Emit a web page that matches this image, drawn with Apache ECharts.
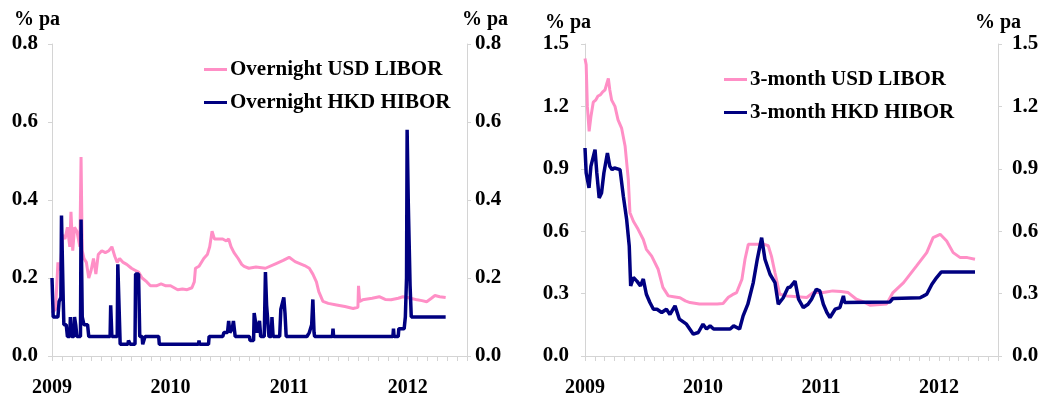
<!DOCTYPE html>
<html>
<head>
<meta charset="utf-8">
<script src="https://cdn.jsdelivr.net/npm/echarts@6/dist/echarts.min.js"></script>
<style>
  html, body { margin: 0; padding: 0; background: #fff; }
  #chart { width: 1047px; height: 403px; }
</style>
</head>
<body>
<div id="chart"></div>
<script>
// Interbank rates, Jan 2009 – Apr 2012 (% per annum); x = fractional year
const yearTicks = [2009, 2010, 2011, 2012];
const unitLabel = '% pa';

const onUsdLibor = [
  [2009.00,0.11],[2009.03,0.12],[2009.05,0.24],[2009.07,0.22],[2009.09,0.31],[2009.11,0.30],
  [2009.13,0.33],[2009.15,0.28],[2009.16,0.37],[2009.175,0.27],[2009.19,0.33],[2009.21,0.32],
  [2009.235,0.28],[2009.245,0.51],[2009.255,0.27],[2009.27,0.25],[2009.29,0.24],[2009.31,0.20],
  [2009.33,0.22],[2009.35,0.25],[2009.37,0.21],[2009.39,0.26],[2009.42,0.27],[2009.45,0.265],
  [2009.48,0.27],[2009.505,0.28],[2009.53,0.255],[2009.55,0.24],[2009.57,0.25],[2009.60,0.24],
  [2009.63,0.235],[2009.67,0.225],[2009.70,0.22],[2009.73,0.215],[2009.76,0.20],[2009.80,0.19],
  [2009.83,0.18],[2009.88,0.18],[2009.92,0.185],[2009.96,0.18],[2010.00,0.18],[2010.03,0.175],
  [2010.06,0.17],[2010.10,0.172],[2010.14,0.17],[2010.18,0.175],[2010.20,0.19],[2010.21,0.225],
  [2010.24,0.23],[2010.28,0.25],[2010.31,0.26],[2010.33,0.28],[2010.35,0.32],[2010.37,0.30],
  [2010.40,0.30],[2010.44,0.30],[2010.47,0.295],[2010.49,0.30],[2010.51,0.28],[2010.535,0.265],
  [2010.57,0.25],[2010.60,0.235],[2010.62,0.23],[2010.66,0.225],[2010.72,0.228],[2010.80,0.225],
  [2010.89,0.237],[2010.95,0.245],[2011.00,0.253],[2011.05,0.242],[2011.09,0.237],[2011.13,0.232],
  [2011.17,0.225],[2011.20,0.21],[2011.23,0.19],[2011.25,0.165],[2011.285,0.14],[2011.33,0.135],
  [2011.40,0.131],[2011.47,0.127],[2011.54,0.122],[2011.58,0.125],[2011.585,0.18],[2011.595,0.14],
  [2011.62,0.144],[2011.70,0.148],[2011.76,0.152],[2011.81,0.145],[2011.86,0.144],[2011.92,0.148],
  [2011.96,0.152],[2012.00,0.15],[2012.04,0.147],[2012.08,0.144],[2012.12,0.142],[2012.16,0.139],
  [2012.20,0.148],[2012.23,0.155],[2012.27,0.152],[2012.32,0.15]
];

const onHkdHibor = [
  [2009.00,0.20],[2009.005,0.20],[2009.01,0.10],[2009.05,0.10],[2009.06,0.14],[2009.075,0.15],
  [2009.08,0.36],[2009.09,0.36],[2009.095,0.14],[2009.10,0.08],[2009.12,0.08],[2009.13,0.05],
  [2009.15,0.05],[2009.155,0.10],[2009.165,0.05],[2009.185,0.05],[2009.19,0.10],[2009.20,0.08],
  [2009.21,0.05],[2009.24,0.05],[2009.245,0.35],[2009.25,0.35],[2009.255,0.10],[2009.27,0.08],
  [2009.30,0.08],[2009.31,0.05],[2009.49,0.05],[2009.495,0.13],[2009.50,0.13],[2009.505,0.05],
  [2009.55,0.05],[2009.555,0.235],[2009.565,0.235],[2009.575,0.03],[2009.64,0.03],[2009.645,0.04],
  [2009.66,0.03],[2009.70,0.03],[2009.705,0.21],[2009.73,0.21],[2009.74,0.05],[2009.76,0.05],
  [2009.765,0.03],[2009.78,0.03],[2009.785,0.05],[2009.90,0.05],[2009.905,0.03],[2010.235,0.03],
  [2010.24,0.04],[2010.245,0.03],[2010.32,0.03],[2010.325,0.05],[2010.44,0.05],[2010.45,0.06],
  [2010.48,0.06],[2010.49,0.09],[2010.50,0.06],[2010.52,0.07],[2010.53,0.09],[2010.545,0.05],
  [2010.665,0.05],[2010.67,0.04],[2010.70,0.04],[2010.705,0.11],[2010.715,0.09],[2010.725,0.09],
  [2010.73,0.06],[2010.75,0.09],[2010.76,0.05],[2010.79,0.05],[2010.80,0.215],[2010.81,0.13],
  [2010.82,0.13],[2010.83,0.05],[2010.85,0.05],[2010.855,0.10],[2010.865,0.05],[2010.92,0.05],
  [2010.93,0.12],[2010.955,0.15],[2010.965,0.11],[2010.975,0.05],[2011.15,0.05],[2011.17,0.06],
  [2011.19,0.08],[2011.20,0.145],[2011.21,0.06],[2011.215,0.05],[2011.365,0.05],[2011.37,0.07],
  [2011.375,0.05],[2011.875,0.05],[2011.88,0.07],[2011.885,0.05],[2011.92,0.05],[2011.925,0.07],
  [2011.97,0.07],[2011.98,0.10],[2011.99,0.20],[2011.995,0.58],[2012.00,0.58],[2012.005,0.39],
  [2012.01,0.39],[2012.015,0.25],[2012.02,0.18],[2012.025,0.18],[2012.03,0.10],[2012.32,0.10]
];

const m3UsdLibor = [
  [2009.00,1.43],[2009.01,1.40],[2009.02,1.20],[2009.035,1.08],[2009.05,1.15],[2009.07,1.22],
  [2009.09,1.23],[2009.11,1.25],[2009.13,1.255],[2009.15,1.27],[2009.17,1.28],[2009.185,1.31],
  [2009.198,1.335],[2009.21,1.28],[2009.226,1.23],[2009.254,1.20],[2009.28,1.135],[2009.31,1.096],
  [2009.34,1.008],[2009.367,0.848],[2009.381,0.689],[2009.41,0.648],[2009.45,0.609],[2009.494,0.56],
  [2009.52,0.513],[2009.565,0.48],[2009.62,0.417],[2009.66,0.33],[2009.706,0.289],[2009.75,0.285],
  [2009.805,0.28],[2009.85,0.265],[2009.89,0.257],[2009.97,0.25],[2010.05,0.25],[2010.12,0.25],
  [2010.17,0.252],[2010.215,0.282],[2010.25,0.295],[2010.285,0.305],[2010.33,0.369],[2010.356,0.465],
  [2010.384,0.537],[2010.45,0.537],[2010.52,0.537],[2010.553,0.53],[2010.58,0.48],[2010.61,0.40],
  [2010.65,0.297],[2010.71,0.289],[2010.80,0.285],[2010.88,0.281],[2010.935,0.305],[2011.02,0.305],
  [2011.10,0.313],[2011.17,0.31],[2011.23,0.305],[2011.30,0.273],[2011.36,0.26],[2011.415,0.244],
  [2011.50,0.248],[2011.556,0.25],[2011.61,0.305],[2011.70,0.353],[2011.81,0.433],[2011.896,0.497],
  [2011.95,0.569],[2012.01,0.585],[2012.065,0.553],[2012.12,0.497],[2012.18,0.473],[2012.24,0.473],
  [2012.305,0.465]
];

const m3HkdHibor = [
  [2009.00,1.0],[2009.01,0.88],[2009.034,0.808],[2009.05,0.912],[2009.085,0.992],[2009.10,0.88],
  [2009.12,0.76],[2009.14,0.784],[2009.16,0.88],[2009.19,0.976],[2009.21,0.912],[2009.23,0.896],
  [2009.25,0.904],[2009.297,0.896],[2009.325,0.768],[2009.353,0.656],[2009.375,0.528],[2009.387,0.337],
  [2009.41,0.377],[2009.44,0.36],[2009.47,0.337],[2009.494,0.37],[2009.52,0.297],[2009.55,0.257],
  [2009.58,0.225],[2009.61,0.225],[2009.65,0.209],[2009.69,0.225],[2009.72,0.2],[2009.763,0.241],
  [2009.80,0.177],[2009.86,0.153],[2009.918,0.105],[2009.96,0.113],[2010.00,0.153],[2010.03,0.13],
  [2010.06,0.145],[2010.09,0.13],[2010.23,0.13],[2010.26,0.145],[2010.31,0.13],[2010.34,0.193],
  [2010.38,0.249],[2010.426,0.353],[2010.46,0.465],[2010.497,0.569],[2010.525,0.465],[2010.568,0.393],
  [2010.61,0.353],[2010.638,0.249],[2010.68,0.28],[2010.72,0.329],[2010.737,0.33],[2010.78,0.36],
  [2010.81,0.273],[2010.85,0.233],[2010.89,0.249],[2010.92,0.273],[2010.96,0.321],[2010.99,0.313],
  [2011.02,0.249],[2011.05,0.209],[2011.076,0.185],[2011.12,0.225],[2011.16,0.233],[2011.19,0.289],
  [2011.20,0.257],[2011.585,0.26],[2011.61,0.277],[2011.84,0.28],[2011.87,0.289],[2011.896,0.297],
  [2011.94,0.345],[2011.98,0.377],[2012.02,0.404],[2012.305,0.404]
];

const PINK = '#ff8fc6';
const NAVY = '#000080';
const AXIS_GREY = '#d4d4d4';
const FONT = '"Liberation Serif", "Times New Roman", serif';

const chart = echarts.init(document.getElementById('chart'), null, { renderer: 'canvas' });

function xAxisFor(gridIndex) {
  return {
    type: 'value', gridIndex,
    min: 2009, max: 2012.5, interval: 1 / 12,
    axisLine: { show: true, lineStyle: { color: AXIS_GREY, width: 1 } },
    axisTick: { show: true, inside: false, length: 5, lineStyle: { color: AXIS_GREY } },
    splitLine: { show: false },
    axisLabel: {
      margin: 22, color: '#000', fontFamily: FONT, fontWeight: 'bold', fontSize: 20,
      formatter: v => {
        const y = Math.round(v);
        return (Math.abs(v - y) < 1e-6 && yearTicks.includes(y)) ? String(y) : '';
      }
    }
  };
}

function yAxisFor(gridIndex, position, max, interval, digits, margin) {
  return {
    type: 'value', gridIndex, position,
    min: 0, max, interval,
    axisLine: { show: true, lineStyle: { color: AXIS_GREY, width: 1 } },
    axisTick: { show: true, inside: false, length: 4, lineStyle: { color: AXIS_GREY } },
    splitLine: { show: false },
    axisLabel: {
      margin, color: '#000', fontFamily: FONT, fontWeight: 'bold', fontSize: 21,
      formatter: v => v.toFixed(digits)
    }
  };
}

function lineSeries(name, data, color, width, xi, yi) {
  return {
    name, type: 'line', data, xAxisIndex: xi, yAxisIndex: yi,
    showSymbol: false, symbol: 'none', smooth: false,
    lineStyle: { color, width }, itemStyle: { color },
    z: color === NAVY ? 3 : 2
  };
}

const legendBase = {
  orient: 'vertical', icon: 'rect', itemWidth: 23, itemHeight: 3, itemGap: 12,
  textStyle: { color: '#000', fontFamily: FONT, fontWeight: 'bold', fontSize: 21, padding: [0, 0, 0, -2] },
  selectedMode: false
};

const unitText = (x, y) => ({
  type: 'text', left: x, top: y,
  style: { text: unitLabel, fill: '#000', font: 'bold 20px ' + FONT }
});

chart.setOption({
  animation: false,
  backgroundColor: '#fff',
  grid: [
    { left: 52, right: 580, top: 44, bottom: 47 },
    { left: 585, right: 49, top: 44, bottom: 47 }
  ],
  xAxis: [xAxisFor(0), xAxisFor(1)],
  yAxis: [
    yAxisFor(0, 'left', 0.8, 0.2, 1, 14),
    yAxisFor(0, 'right', 0.8, 0.2, 1, 8),
    yAxisFor(1, 'left', 1.5, 0.3, 1, 16),
    yAxisFor(1, 'right', 1.5, 0.3, 1, 14)
  ],
  legend: [
    Object.assign({}, legendBase, { left: 199, top: 54, data: ['Overnight USD LIBOR', 'Overnight HKD HIBOR'] }),
    Object.assign({}, legendBase, { left: 719, top: 64, data: ['3-month USD LIBOR', '3-month HKD HIBOR'] })
  ],
  graphic: [
    unitText(14, 10), unitText(462, 10),
    unitText(545, 13), unitText(975, 13)
  ],
  series: [
    lineSeries('Overnight USD LIBOR', onUsdLibor, PINK, 3, 0, 0),
    lineSeries('Overnight HKD HIBOR', onHkdHibor, NAVY, 3.5, 0, 0),
    lineSeries('3-month USD LIBOR', m3UsdLibor, PINK, 3, 1, 2),
    lineSeries('3-month HKD HIBOR', m3HkdHibor, NAVY, 3.5, 1, 2)
  ]
});
</script>
</body>
</html>
